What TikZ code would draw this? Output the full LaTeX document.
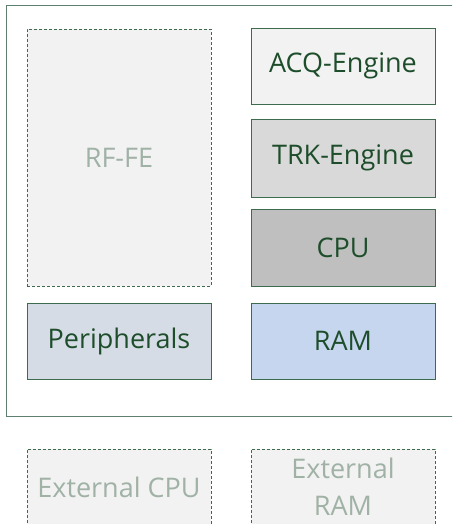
\documentclass[tikz,border=0pt]{standalone}
\usepackage{fontspec}
\setmainfont{Open Sans}
\usepackage{tikz}
\definecolor{boxline}{HTML}{3D6B4E}
\definecolor{frameline}{HTML}{5E8070}
\definecolor{boxtext}{HTML}{1E4D2B}
\definecolor{ghosttext}{HTML}{A0B2A6}
\definecolor{fillA}{HTML}{F2F2F2}
\definecolor{fillB}{HTML}{D9D9D9}
\definecolor{fillC}{HTML}{BFBFBF}
\definecolor{fillP}{HTML}{D6DCE5}
\definecolor{fillR}{HTML}{C6D6EE}
\tikzset{
	block/.style={
			draw=boxline, line width=0.8pt, text=boxtext, minimum width=184pt, minimum height=76pt,
			inner sep=0pt, font=\fontsize{27}{37}\selectfont, align=center
		},
	ghost/.style={
			block, dash pattern=on 3pt off 2pt, fill=fillA, text=ghosttext
		}
}

\begin{document}
\begin{tikzpicture}[x=1pt, y=-1pt]
		\useasboundingbox (0, 0) rectangle (452, 524);
		\clip (0, 0) rectangle (452, 524);

		\draw[frameline, line width=0.9pt]	(460, 5) to (6, 5) to (6, 416) to (460, 416);

		\node[ghost, minimum height=257pt]	(rffe) at (119, 157.5) {RF-FE};
		\node[block, fill=fillA]	(acq) at (343, 66) {ACQ-Engine};
		\node[block, fill=fillB, minimum height=78pt]	(trk) at (343, 158) {TRK-Engine};
		\node[block, fill=fillC, minimum height=77pt]	(cpu) at (343, 247.5) {CPU};
		\node[block, fill=fillP]	(periph) at (119, 341) {Peripherals};
		\node[block, fill=fillR]	(ram) at (343, 341) {RAM};

		\node[ghost]	(extcpu) at (119, 487) {External CPU};
		\node[ghost]	(extram) at (343, 487) {External\\RAM};
	\end{tikzpicture}
\end{document}
